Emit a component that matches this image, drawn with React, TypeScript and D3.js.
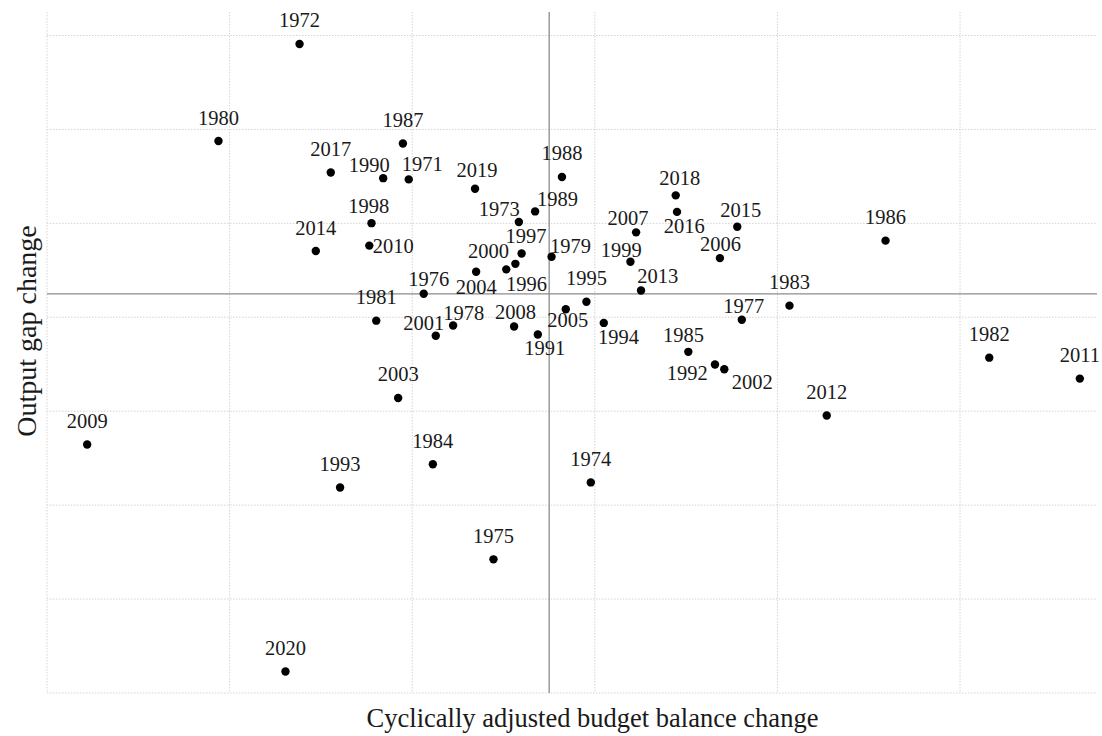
import React, { useEffect } from "react";
import * as d3 from "d3";

// ---- Data ----
const years = [
  1971, 1972, 1973, 1974, 1975, 1976, 1977, 1978, 1979, 1980,
  1981, 1982, 1983, 1984, 1985, 1986, 1987, 1988, 1989, 1990,
  1991, 1992, 1993, 1994, 1995, 1996, 1997, 1998, 1999, 2000,
  2001, 2002, 2003, 2004, 2005, 2006, 2007, 2008, 2009, 2010,
  2011, 2012, 2013, 2014, 2015, 2016, 2017, 2018, 2019, 2020,
];

const balanceChange = [
  -0.769, -1.367, -0.166, 0.228, -0.305, -0.687, 1.055, -0.526, 0.013, -1.811,
  -0.947, 2.41, 1.316, -0.637, 0.762, 1.842, -0.801, 0.07, -0.077, -0.909,
  -0.062, 0.908, -1.145, 0.299, 0.204, -0.185, -0.151, -0.973, 0.445, -0.235,
  -0.621, 0.959, -0.827, -0.4, 0.091, 0.935, 0.476, -0.192, -2.53, -0.985,
  2.906, 1.52, 0.503, -1.278, 1.03, 0.7, -1.196, 0.693, -0.406, -1.444,
];

const outputGapChange = [
  1.218, 2.66, 0.765, -2.008, -2.827, 0.001, -0.276, -0.337, 0.394, 1.626,
  -0.286, -0.68, -0.126, -1.814, -0.618, 0.566, 1.6, 1.244, 0.877, 1.231,
  -0.433, -0.753, -2.062, -0.31, -0.085, 0.319, 0.429, 0.752, 0.341, 0.26,
  -0.446, -0.804, -1.109, 0.234, -0.164, 0.38, 0.654, -0.348, -1.605, 0.513,
  -0.903, -1.296, 0.035, 0.455, 0.713, 0.872, 1.292, 1.048, 1.119, -4.021,
];

const xDomain = [-2.75, 3.0];
const yDomain = [-4.25, 3.0];
const xGridTicks = [-2.75, -1.75, -0.75, 0.25, 1.25, 2.25];
const yGridTicks = [-4.25, -3.25, -2.25, -1.25, -0.25, 0.75, 1.75, 2.75];

const xTitle = "Cyclically adjusted budget balance change";
const yTitle = "Output gap change";

// ---- Label placement (offsets of label from its point, px) ----
const labelOffsets: Record<number, [number, number]> = {
  1971: [13.5, -8],
  1973: [-19.5, -5.5],
  1976: [5, -8],
  1977: [2, -6.6],
  1978: [10.6, -5],
  1979: [19, -4],
  1985: [-4.8, -9.8],
  1989: [22.5, -5],
  1990: [-14, -6],
  1991: [7, 21],
  1992: [-27.8, 15.1],
  1994: [14.7, 21.5],
  1996: [11, 27],
  1997: [4.3, -10],
  1998: [-2.7, -9.8],
  1999: [-9.2, -4.9],
  2000: [-17.8, -11],
  2001: [-12, -5.3],
  2002: [27.9, 19.3],
  2004: [0, 22.3],
  2005: [2, 18],
  2006: [0.5, -6.8],
  2007: [-8, -7.3],
  2008: [1.3, -7.7],
  2010: [24, 7.2],
  2013: [16.8, -7.3],
  2015: [3.6, -9.5],
  2016: [7.2, 21.3],
  2018: [4, -10],
  2019: [2, -11.3],
};
const defaultOffset: [number, number] = [0, -16.5];

const W = 1102;
const H = 736;
const FONT = "'Liberation Serif', 'Times New Roman', serif";

export default function App() {
  useEffect(() => {
    document.body.style.margin = "0";
  }, []);

  const x = d3.scaleLinear().domain(xDomain).range([47, 1097]);
  const y = d3.scaleLinear().domain(yDomain).range([693, 12]);

  const points = years.map((yr, i) => ({
    year: yr,
    bx: balanceChange[i],
    gy: outputGapChange[i],
  }));

  return (
    <svg
      width={W}
      height={H}
      style={{ position: "absolute", left: 0, top: 0, display: "block", background: "#fff" }}
      fontFamily={FONT}
    >
      {/* grid */}
      <g stroke="#d4d4d4" strokeWidth={1} strokeDasharray="1.5,1.5">
        {xGridTicks.map((t) => (
          <line key={"vx" + t} x1={x(t)} x2={x(t)} y1={y(yDomain[1])} y2={y(yDomain[0])} />
        ))}
        {yGridTicks.map((t) => (
          <line key={"hy" + t} x1={x(xDomain[0])} x2={x(xDomain[1])} y1={y(t)} y2={y(t)} />
        ))}
      </g>
      {/* zero axes */}
      <g stroke="#8c8c8c" strokeWidth={1.3}>
        <line x1={x(0)} x2={x(0)} y1={y(yDomain[1])} y2={y(yDomain[0])} />
        <line x1={x(xDomain[0])} x2={x(xDomain[1])} y1={y(0)} y2={y(0)} />
      </g>
      {/* points */}
      <g fill="#000">
        {points.map((p) => (
          <circle key={"c" + p.year} cx={x(p.bx)} cy={y(p.gy)} r={4.2} />
        ))}
      </g>
      {/* labels */}
      <g fill="#1a1a1a" fontSize={20.5} textAnchor="middle">
        {points.map((p) => {
          const [dx, dy] = labelOffsets[p.year] || defaultOffset;
          return (
            <text key={"t" + p.year} x={x(p.bx) + dx} y={y(p.gy) + dy}>
              {p.year}
            </text>
          );
        })}
      </g>
      {/* axis titles */}
      <text x={592.5} y={727} textAnchor="middle" fontSize={26.5} fill="#1a1a1a">
        {xTitle}
      </text>
      <text
        transform={`translate(36, 331) rotate(-90)`}
        textAnchor="middle"
        fontSize={28}
        fill="#1a1a1a"
      >
        {yTitle}
      </text>
    </svg>
  );
}
